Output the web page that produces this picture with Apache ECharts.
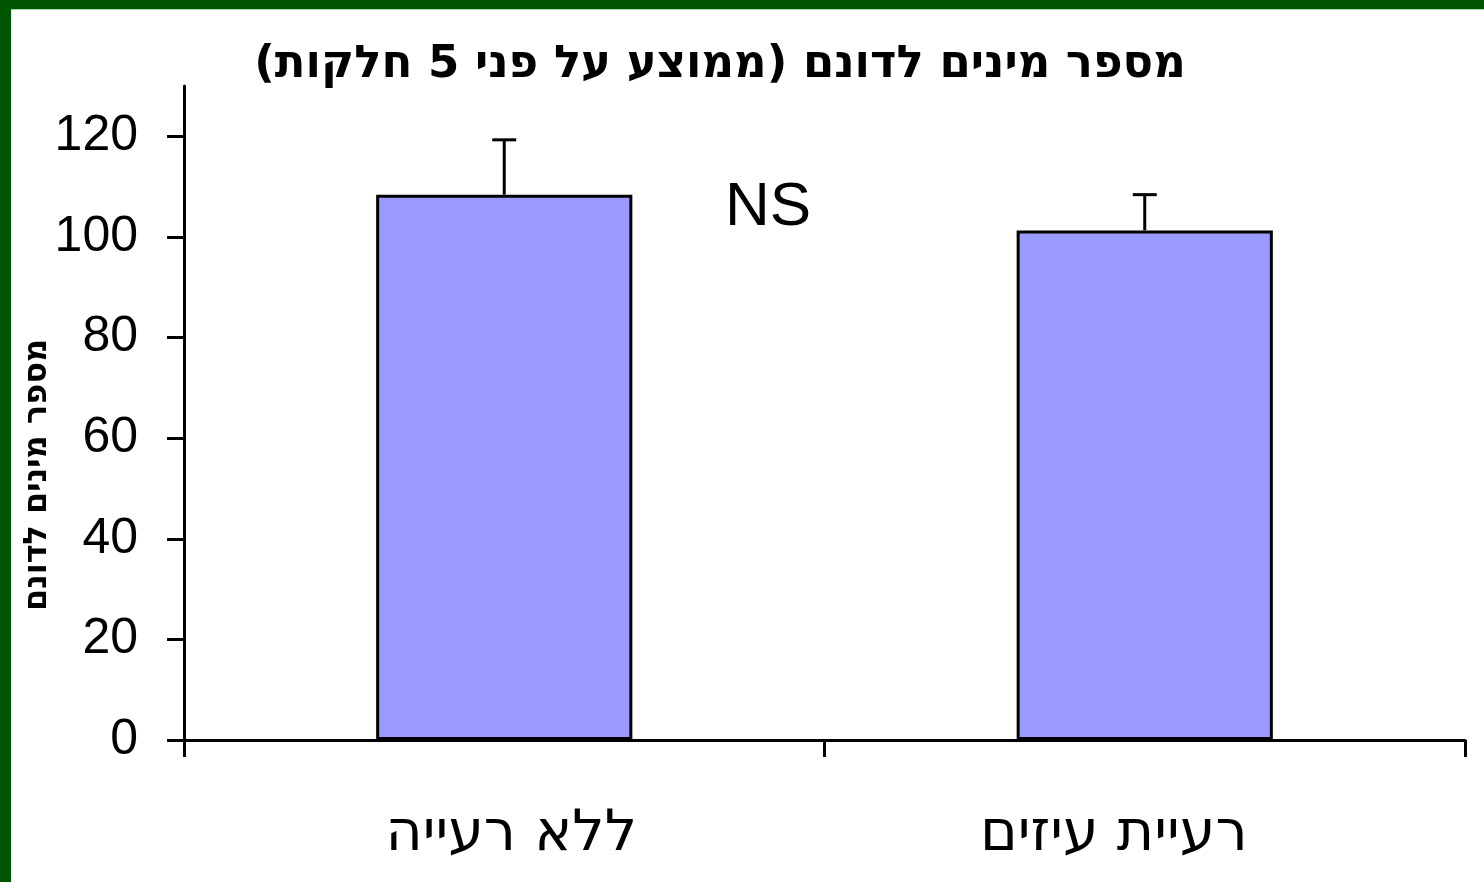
<!DOCTYPE html>
<html>
<head>
<meta charset="utf-8">
<script src="https://cdn.jsdelivr.net/npm/echarts@6/dist/echarts.min.js"></script>
<style>
  html, body { margin: 0; padding: 0; background: #ffffff; }
  #chart { position: absolute; left: 0; top: 0; width: 1484px; height: 882px; }
  .frame-top { position: absolute; left: 0; top: 0; width: 1484px; height: 9px; background: #005500; }
  .frame-top-line { position: absolute; left: 11px; top: 9px; width: 1473px; height: 1px; background: #a6d6a6; }
  .frame-left { position: absolute; left: 0; top: 0; width: 11px; height: 882px; background: #005500; }
</style>
</head>
<body>
<div id="chart"></div>
<div class="frame-top"></div>
<div class="frame-top-line"></div>
<div class="frame-left"></div>
<script>
// Species per dunam, mean of 5 plots, with standard error
const categories = ['ללא רעייה', 'רעיית עיזים'];
const meanValues = [108.4, 101.3];
const errorValues = [10.9, 7.1];
const yTickValues = [0, 20, 40, 60, 80, 100, 120];

const titleText = 'מספר מינים לדונם (ממוצע על פני 5 חלקות)';
const yAxisTitle = 'מספר מינים לדונם';
const significanceText = 'NS';

// horizontal nudge of each category label: [left, right] padding
const labelPadding = [[0, 0, 0, 14], [0, 62, 0, 0]];

const chart = echarts.init(document.getElementById('chart'));

const errorData = meanValues.map((v, i) => [i, v, v + errorValues[i]]);

chart.setOption({
  animation: false,
  grid: { left: 184, right: 19, top: 86, bottom: 142, containLabel: false },
  xAxis: {
    type: 'category',
    data: categories.map((c, i) => ({ value: c, textStyle: { padding: labelPadding[i] } })),
    boundaryGap: true,
    axisLine: { lineStyle: { color: '#000', width: 3 } },
    axisTick: { show: true, length: 17, lineStyle: { color: '#000', width: 3 } },
    axisLabel: {
      color: '#000',
      fontFamily: 'DejaVu Sans',
      fontSize: 57,
      margin: 67
    }
  },
  yAxis: {
    type: 'value',
    min: 0,
    max: 130,
    interval: 10,
    splitLine: { show: false },
    axisLine: { show: true, lineStyle: { color: '#000', width: 3 } },
    axisTick: { show: true, length: 17, customValues: yTickValues, lineStyle: { color: '#000', width: 3 } },
    axisLabel: {
      customValues: yTickValues,
      color: '#000',
      fontFamily: 'Liberation Sans',
      fontSize: 50,
      margin: 46
    }
  },
  series: [
    {
      type: 'bar',
      data: meanValues,
      barWidth: '40%',
      itemStyle: { color: '#9999ff', borderColor: '#000', borderWidth: 3 },
      z: 2
    },
    {
      type: 'custom',
      data: errorData,
      z: 3,
      renderItem: function (params, api) {
        const x = api.value(0);
        const base = api.coord([x, api.value(1)]);
        const top = api.coord([x, api.value(2)]);
        const cap = 12;
        return {
          type: 'group',
          children: [
            { type: 'line', shape: { x1: base[0], y1: base[1], x2: top[0], y2: top[1] },
              style: { stroke: '#000', lineWidth: 3 } },
            { type: 'line', shape: { x1: top[0] - cap, y1: top[1], x2: top[0] + cap, y2: top[1] },
              style: { stroke: '#000', lineWidth: 3 } }
          ]
        };
      }
    }
  ],
  graphic: [
    {
      type: 'text', x: 720, y: 65,
      style: { text: titleText, fill: '#000', font: 'bold 45px "DejaVu Sans"', align: 'center', verticalAlign: 'middle' }
    },
    {
      type: 'text', x: 38, y: 475, rotation: Math.PI / 2,
      style: { text: yAxisTitle, fill: '#000', font: 'bold 32px "DejaVu Sans"', align: 'center', verticalAlign: 'middle' }
    },
    {
      type: 'text', x: 768, y: 208,
      style: { text: significanceText, fill: '#000', font: '62px "Liberation Sans"', align: 'center', verticalAlign: 'middle' }
    }
  ]
});
</script>
</body>
</html>
